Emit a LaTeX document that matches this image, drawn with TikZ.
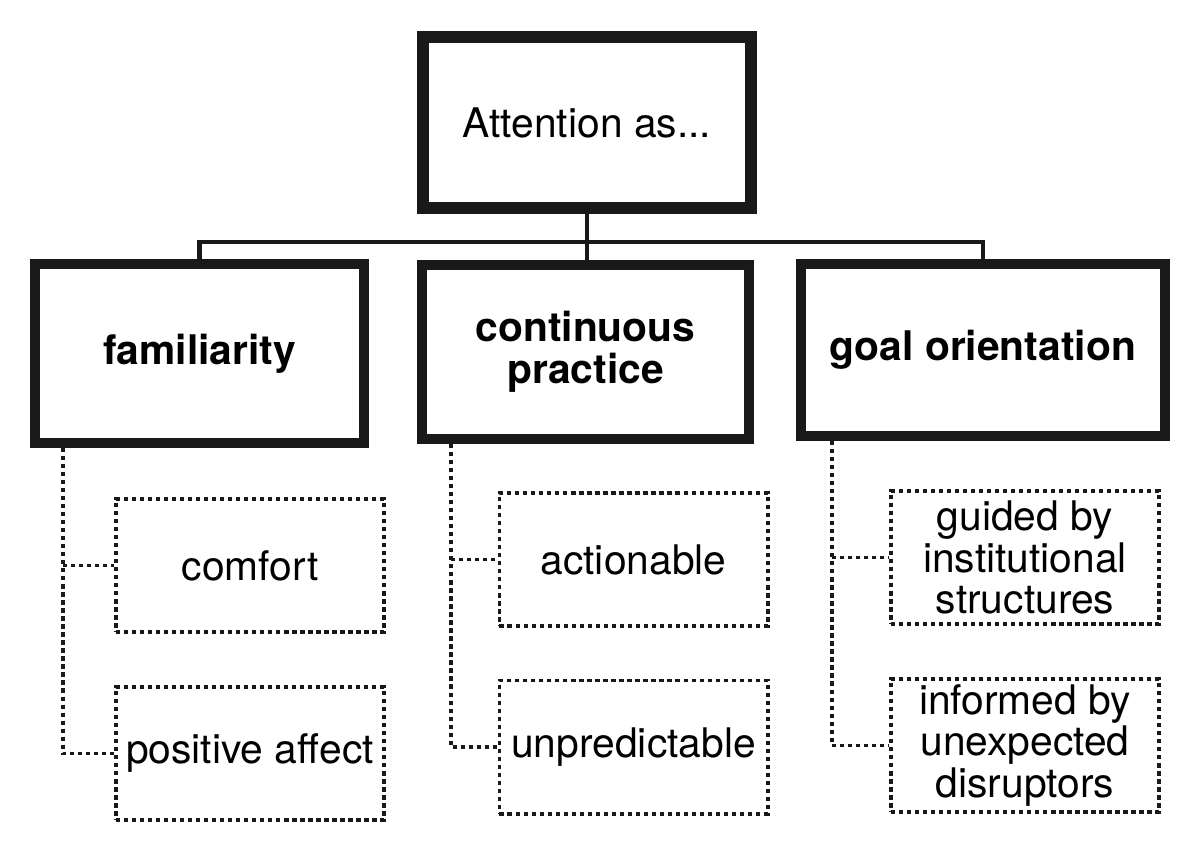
\documentclass[tikz,border=0pt]{standalone}
\usepackage{fontspec}
\setmainfont{TeX Gyre Heros}
\tikzset{
  mainbox/.style={rectangle, draw=black!90, line width=8.5pt, inner sep=0pt,
    minimum width=8.2cm, minimum height=4.275cm, align=center,
    font=\fontsize{29}{30}\selectfont},
  aspectbox/.style={rectangle, draw=black!90, line width=7.1pt, inner sep=0pt,
    minimum height=4.35cm, align=center,
    font=\fontsize{29}{30}\selectfont\bfseries},
  facetbox/.style={rectangle, draw=black!90, line width=2.8pt,
    dash pattern=on 3pt off 2.7pt, inner sep=0pt,
    minimum width=6.7cm, minimum height=3.325cm, align=center,
    font=\fontsize{29}{29.5}\selectfont},
  link/.style={draw=black!90, line width=3pt},
  dotlink/.style={draw=black!90, line width=2.8pt, dash pattern=on 3pt off 2.7pt}
}
\begin{document}
\begin{tikzpicture}[x=0.025cm, y=-0.025cm]
\useasboundingbox (0,0) rectangle (1200,855);

% top box
\node[mainbox] (attn) at (587,122.5) {Attention as...};

% three aspects
\node[aspectbox, minimum width=8.225cm, minimum height=4.475cm] (fam) at (199.5,353.5) {familiarity};
\node[aspectbox, minimum width=8.175cm] (cont) at (585.5,352) {continuous\\practice};
\node[aspectbox, minimum width=9.1cm, minimum height=4.3cm] (goal) at (983,350) {goal orientation};

% facets
\node[facetbox] (comf) at (250,565.5) {comfort};
\node[facetbox] (posaff) at (250,753.5) {positive affect};
\node[facetbox] (action) at (633.5,559.5) {actionable};
\node[facetbox] (unpred) at (633.5,747) {unpredictable};
\node[facetbox] (guided) at (1025,557.5) {guided by\\institutional\\structures};
\node[facetbox] (inform) at (1025,745.5) {informed by\\unexpected\\disruptors};

% tree lines
\coordinate (bus) at ([yshift=-0.7cm]attn.south);
\draw[link] (fam.north) |- (bus) -| (goal.north);
\draw[link] (attn.south) -- (attn.south |- cont.north);

% dotted branches
\draw[dotlink] ([xshift=0.825cm]fam.south west) |- (posaff.west);
\draw[dotlink] ([xshift=0.825cm]fam.south west |- comf.west) -- (comf.west);
\draw[dotlink] ([xshift=0.85cm]cont.south west) |- (unpred.west);
\draw[dotlink] ([xshift=0.85cm]cont.south west |- action.west) -- (action.west);
\draw[dotlink] ([xshift=0.9cm]goal.south west) |- (inform.west);
\draw[dotlink] ([xshift=0.9cm]goal.south west |- guided.west) -- (guided.west);
\end{tikzpicture}
\end{document}
